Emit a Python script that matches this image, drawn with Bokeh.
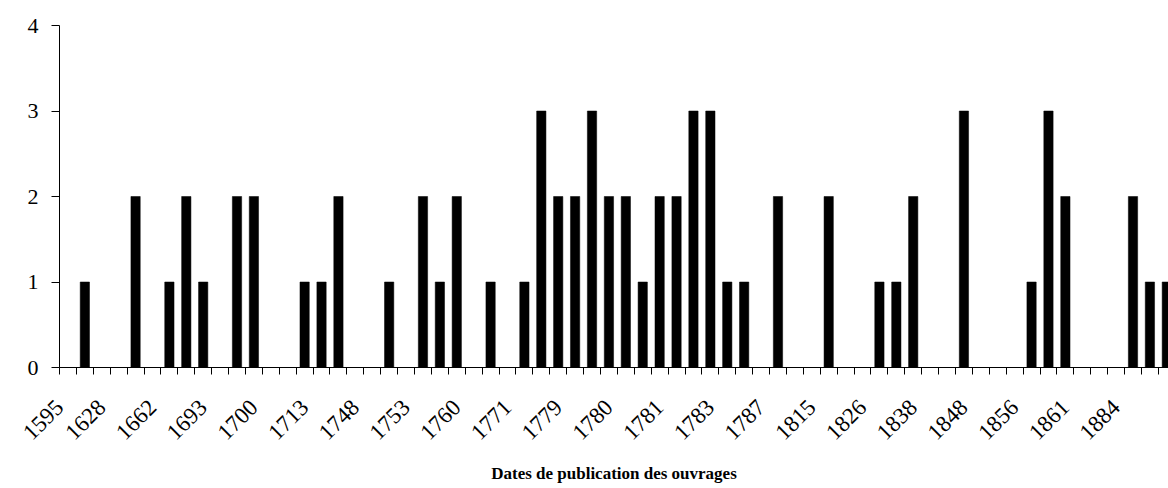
from bokeh.plotting import figure
from bokeh.models import Range1d, FixedTicker, ColumnDataSource
from bokeh.embed import file_html
from bokeh.resources import INLINE
import math

# Labelled years (every third category carries a label)
year_labels = ["1595", "1628", "1662", "1693", "1700", "1713", "1748", "1753",
               "1760", "1771", "1779", "1780", "1781", "1783", "1787", "1815",
               "1826", "1838", "1848", "1856", "1861", "1884"]

# Number of works per category (66 categories, left to right)
counts = [0, 1, 0, 0, 2, 0, 1, 2, 1, 0,
          2, 2, 0, 0, 1, 1, 2, 0, 0, 1,
          0, 2, 1, 2, 0, 1, 0, 1, 3, 2,
          2, 3, 2, 2, 1, 2, 2, 3, 3, 1,
          1, 0, 2, 0, 0, 2, 0, 0, 1, 1,
          2, 0, 0, 3, 0, 0, 0, 1, 3, 2,
          0, 0, 0, 2, 1, 1]

y_ticks = [0, 1, 2, 3, 4]
axis_title = "Dates de publication des ouvrages"

n = len(counts)
xs = list(range(n))
src = ColumnDataSource(dict(x=xs, top=counts))

x_start, x_end = -0.5, 65.1

p = figure(width=1168, height=488, output_backend="svg", toolbar_location=None,
           x_range=Range1d(x_start, x_end), y_range=Range1d(0, 4),
           min_border_left=59, min_border_right=0, min_border_top=25,
           min_border_bottom=121)
p.outline_line_color = None
p.xgrid.visible = False
p.ygrid.visible = False
p.background_fill_color = "white"
p.border_fill_color = "white"

p.vbar(x="x", top="top", bottom=0, width=0.55, source=src,
       fill_color="black", line_color="black", line_width=0.5)

# label anchors sit slightly left of the category centre, as in the original
label_pos = [max(3 * k - 1.0, x_start) for k in range(len(year_labels))]
p.xaxis.ticker = FixedTicker(ticks=label_pos,
                             minor_ticks=[i - 0.5 for i in range(n + 1)])
p.xaxis.major_label_overrides = {pos: lab for pos, lab in zip(label_pos, year_labels)}
p.xaxis.major_tick_out = 0
p.xaxis.major_tick_in = 0
p.xaxis.minor_tick_out = 7
p.xaxis.minor_tick_in = 0
p.xaxis.minor_tick_line_color = "black"
p.xaxis.major_label_orientation = math.pi / 4
p.xaxis.major_label_standoff = 29
p.xaxis.major_label_text_font = "Liberation Serif"
p.xaxis.major_label_text_font_size = "23px"
p.xaxis.major_label_text_color = "black"
p.xaxis.axis_line_color = "black"
p.xaxis.axis_label = axis_title
p.xaxis.axis_label_text_font = "Liberation Serif"
p.xaxis.axis_label_text_font_style = "bold"
p.xaxis.axis_label_text_font_size = "17px"
p.xaxis.axis_label_text_color = "black"
p.xaxis.axis_label_standoff = 14

p.yaxis.ticker = FixedTicker(ticks=y_ticks)
p.yaxis.major_tick_out = 8
p.yaxis.major_tick_in = 0
p.yaxis.minor_tick_out = 0
p.yaxis.minor_tick_in = 0
p.yaxis.major_label_standoff = 13
p.yaxis.major_label_text_font = "Liberation Serif"
p.yaxis.major_label_text_font_size = "22px"
p.yaxis.major_label_text_color = "black"
p.yaxis.axis_line_color = "black"

open("out.html", "w").write(file_html(p, INLINE))
